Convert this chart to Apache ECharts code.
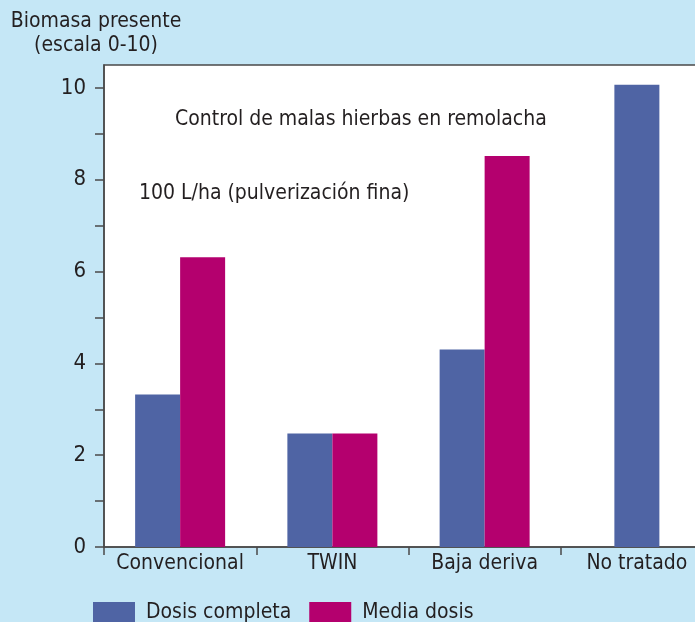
<!DOCTYPE html>
<html><head><meta charset="utf-8">
<script src="https://cdn.jsdelivr.net/npm/echarts@6/dist/echarts.min.js"></script>
<style>html,body{margin:0;padding:0;background:#c5e7f6;}#c{width:695px;height:622px;}</style>
</head><body><div id="c"></div>
<script>
var categories = ['Convencional', 'TWIN', 'Baja deriva', 'No tratado'];
var dosisCompleta = [3.32, 2.47, 4.30, null];
var mediaDosis = [6.31, 2.47, 8.52, null];
var noTratado = [null, null, null, 10.07];
var yTicks = [0, 1, 2, 3, 4, 5, 6, 7, 8, 9, 10];
var yLabels = [0, 2, 4, 6, 8, 10];
var seriesNames = ['Dosis completa', 'Media dosis'];

var FONT = "'Liberation Sans Narrow', 'DejaVu Sans Condensed', sans-serif";
var TXT = '#231f20';
var BLUE = '#4f64a4', MAG = '#b4006e';
var chart = echarts.init(document.getElementById('c'));
chart.setOption({
  backgroundColor: '#c5e7f6',
  animation: false,
  textStyle: {fontFamily: FONT, color: TXT},
  grid: {left: 104, top: 65, width: 609, bottom: 75, outerBoundsMode: 'none', containLabel: false, show: true, backgroundColor: '#ffffff', borderColor: '#4a4a4a', borderWidth: 1.5},
  legend: {
    left: 93, top: 602, padding: 0, itemWidth: 42, itemHeight: 22, itemGap: 18,
    icon: 'rect', data: seriesNames,
    textStyle: {fontFamily: FONT, fontSize: 21, color: TXT, padding: [0, 0, 0, 6]}
  },
  xAxis: [{
    type: 'category', data: categories,
    axisLine: {lineStyle: {color: '#4a4a4a', width: 1.5}},
    axisTick: {show: true, length: 8, lineStyle: {color: '#4a4a4a', width: 1.5}},
    axisLabel: {interval: 0, fontFamily: FONT, fontSize: 21, color: TXT, margin: 6}
  }, {
    type: 'category', data: categories, show: false
  }],
  yAxis: {
    type: 'value', min: 0, max: 10.5,
    splitLine: {show: false},
    axisLine: {show: true, lineStyle: {color: '#4a4a4a', width: 1.5}},
    axisTick: {show: true, length: 9, customValues: yTicks, lineStyle: {color: '#4a4a4a', width: 1.5}},
    axisLabel: {customValues: yLabels, fontFamily: FONT, fontSize: 22, color: TXT, margin: 18}
  },
  graphic: [
    {type: 'text', x: 96, y: 22, style: {text: 'Biomasa presente', textAlign: 'center', textVerticalAlign: 'middle', font: '21px ' + FONT, fill: TXT}},
    {type: 'text', x: 96, y: 46, style: {text: '(escala 0-10)', textAlign: 'center', textVerticalAlign: 'middle', font: '21px ' + FONT, fill: TXT}},
    {type: 'text', x: 175, y: 120, style: {text: 'Control de malas hierbas en remolacha', textVerticalAlign: 'middle', font: '21px ' + FONT, fill: TXT}},
    {type: 'text', x: 139, y: 194, style: {text: '100 L/ha (pulverización fina)', textVerticalAlign: 'middle', font: '21px ' + FONT, fill: TXT}}
  ],
  series: [
    {name: seriesNames[0], type: 'bar', data: dosisCompleta, barWidth: 45, barGap: '0%', itemStyle: {color: BLUE}},
    {name: seriesNames[1], type: 'bar', data: mediaDosis, barWidth: 45, barGap: '0%', itemStyle: {color: MAG}},
    {name: seriesNames[0], type: 'bar', xAxisIndex: 1, data: noTratado, barWidth: 45, itemStyle: {color: BLUE}}
  ]
});
</script></body></html>
